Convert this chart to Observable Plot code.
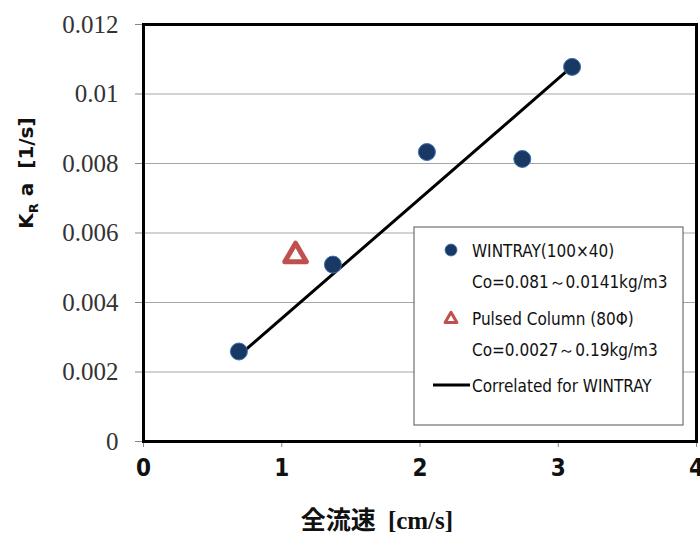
<!DOCTYPE html>
<html>
<head>
<meta charset="utf-8">
<script src="https://cdn.jsdelivr.net/npm/d3@7"></script>
<script src="https://cdn.jsdelivr.net/npm/@observablehq/plot@0.6"></script>
<style>
  body { margin: 0; background: #fff; }
  #chart svg { display: block; }
  .serif { font-family: "Liberation Serif", "Times New Roman", "DejaVu Serif", serif; }
  .narrow { font-family: "Liberation Sans Narrow", "Arial Narrow", "DejaVu Sans Condensed", sans-serif; font-stretch: condensed; }
</style>
</head>
<body>
<div id="chart"></div>
<script>
// Data
const wintrayX = [0.69, 1.37, 2.05, 2.74, 3.10];
const wintrayY = [0.00259, 0.00509, 0.00833, 0.00813, 0.01078];
const pulsedX = [1.10];
const pulsedY = [0.00535];
const fitX = [0.69, 3.08];
const fitY = [0.00247, 0.01072];
const xTicks = [0, 1, 2, 3, 4];
const yTicks = [0, 0.002, 0.004, 0.006, 0.008, 0.01, 0.012];
const yTickLabels = ["0", "0.002", "0.004", "0.006", "0.008", "0.01", "0.012"];
const legendLabels = [
  "WINTRAY(100×40)",
  "Co=0.081～0.0141kg/m3",
  "Pulsed Column (80Φ)",
  "Co=0.0027～0.19kg/m3",
  "Correlated for WINTRAY"
];

const wintray = wintrayX.map((x, i) => ({x, y: wintrayY[i]}));
const pulsed = pulsedX.map((x, i) => ({x, y: pulsedY[i]}));
const fit = fitX.map((x, i) => ({x, y: fitY[i]}));

const navy = "#1a3864";
const navyEdge = "#3a72b0";
const red = "#c0504d";

const plot = Plot.plot({
  width: 700,
  height: 533,
  marginLeft: 143,
  marginRight: 4,
  marginTop: 24,
  marginBottom: 92,
  style: {background: "#fff", overflow: "visible"},
  x: {domain: [0, 4]},
  y: {domain: [0, 0.012]},
  marks: [
    Plot.gridY(yTicks.slice(1, -1), {stroke: "#a6a6a6", strokeOpacity: 1, strokeWidth: 1}),
    Plot.axisY(yTicks, {
      tickSize: 8, tickPadding: 17, stroke: "#888",
      tickFormat: (d, i) => yTickLabels[i],
      fontSize: 25, fill: "#333", label: null
    }),
    Plot.axisX(xTicks, {
      tickSize: 6, tickPadding: 11, stroke: "#888",
      tickFormat: d3.format("d"),
      fontWeight: "bold", fontSize: 24, fill: "#111", label: null
    }),
    Plot.line(fit, {x: "x", y: "y", stroke: "#000", strokeWidth: 3}),
    Plot.dot(wintray, {x: "x", y: "y", r: 8.5, fill: navy, stroke: navyEdge, strokeWidth: 1}),
    Plot.dot(pulsed, {x: "x", y: "y", symbol: "triangle", r: 8, fill: "#fff", stroke: red, strokeWidth: 5, strokeLinejoin: "round"}),
    Plot.frame({stroke: "#000", strokeWidth: 3})
  ]
});

document.getElementById("chart").appendChild(plot);

const svg = d3.select(plot);
svg.selectAll('g[aria-label="y-axis tick label"]').attr("class", "serif").attr("font-family", null);
svg.selectAll('g[aria-label="x-axis tick label"]').attr("class", "narrow").attr("font-family", null);

// Legend
const lg = svg.append("g").attr("transform", "translate(414,227)");
lg.append("rect").attr("width", 269).attr("height", 198)
  .attr("fill", "#fff").attr("stroke", "#555").attr("stroke-width", 1);
const textX = 58;
const rows = [24, 55, 92, 123, 159];
lg.append("circle").attr("cx", 37).attr("cy", 23).attr("r", 6)
  .attr("fill", navy).attr("stroke", navyEdge).attr("stroke-width", 0.8);
lg.append("path").attr("d", d3.symbol(d3.symbolTriangle, 60)())
  .attr("transform", "translate(37,92)")
  .attr("fill", "#fff").attr("stroke", red).attr("stroke-width", 3).attr("stroke-linejoin", "round");
lg.append("line").attr("x1", 19).attr("x2", 56).attr("y1", 158).attr("y2", 158)
  .attr("stroke", "#000").attr("stroke-width", 3);
legendLabels.forEach((t, i) => {
  lg.append("text").attr("class", "narrow").attr("x", textX).attr("y", rows[i]).attr("dy", "0.35em")
    .attr("text-anchor", "start")
    .attr("font-size", 17).attr("fill", "#111").text(t);
});

// Axis titles
const xt = svg.append("text").attr("x", 377).attr("y", 520).attr("dy", "0.35em")
  .attr("text-anchor", "middle").attr("fill", "#111")
  .attr("font-size", 25).attr("font-weight", "bold");
xt.append("tspan").attr("font-family", "'Noto Sans CJK JP'").text("全流速");
xt.append("tspan").attr("class", "serif").attr("dx", 12).text("[cm/s]");

const yt = svg.append("text").attr("transform", "translate(26,173) rotate(-90)")
  .attr("text-anchor", "middle").attr("dy", "0.35em").attr("fill", "#111")
  .attr("font-family", "'DejaVu Sans'").attr("font-weight", "bold").attr("font-size", 20);
yt.append("tspan").text("K");
yt.append("tspan").attr("font-size", 13).attr("dy", 5).text("R");
yt.append("tspan").attr("dy", -5).text(" a  [1/s]");
</script>
</body>
</html>
